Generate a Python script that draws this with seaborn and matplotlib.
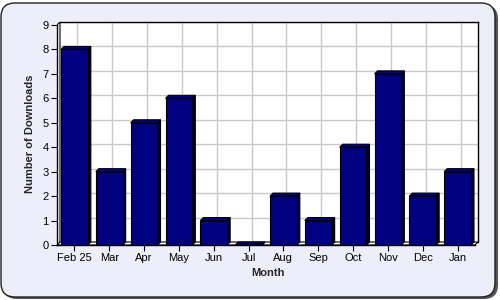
import matplotlib
matplotlib.use("Agg")
import matplotlib.pyplot as plt
import matplotlib.transforms as mtransforms
import seaborn as sns
import pandas as pd
from matplotlib.patches import FancyBboxPatch, Polygon

months = ["Feb 25", "Mar", "Apr", "May", "Jun", "Jul", "Aug", "Sep", "Oct", "Nov", "Dec", "Jan"]
downloads = [8, 3, 5, 6, 1, 0, 2, 1, 4, 7, 2, 3]
yticks = [0, 1, 2, 3, 4, 5, 6, 7, 8, 9]

df = pd.DataFrame({"Month": months, "Downloads": downloads})

sns.set_theme(style="white")
plt.rcParams["font.family"] = ["Liberation Sans", "DejaVu Sans"]

W, H = 500, 300
fig = plt.figure(figsize=(5, 3), dpi=100)
fig.patch.set_facecolor("white")

# rounded background with shadow (pixel coordinates, origin bottom-left)
ident = mtransforms.IdentityTransform()
shadow = FancyBboxPatch((3, 1), 495, 294, boxstyle="round,pad=0,rounding_size=14",
                        transform=ident, facecolor="#555555", edgecolor="none", zorder=0)
bg = FancyBboxPatch((1, 3), 494, 294, boxstyle="round,pad=0,rounding_size=14",
                    transform=ident, facecolor="#EEEEFA", edgecolor="#222222", linewidth=1.0, zorder=1)
fig.patches.extend([shadow, bg])

left_px, right_px, bottom_px, top_px = 57, 478, 245, 22
depth = 3
ax = fig.add_axes([left_px / W, (H - bottom_px) / H, (right_px - left_px) / W, (bottom_px - top_px) / H])
ax.set_facecolor("none")
ax.set_zorder(2)

n = len(months)
px_per_x = (right_px - left_px - depth) / n
px_per_y = (bottom_px - 25) / 9.0
dx = depth / px_per_x
dy = depth / px_per_y

sns.barplot(data=df, x="Month", y="Downloads", ax=ax, color="#000080", saturation=1,
            width=0.77, edgecolor="black", linewidth=0.8, zorder=4)

ax.set_xlim(-0.5, n - 0.5 + dx)
ax.set_ylim(0, 9 + dy)
ax.set_yticks(yticks)
ax.set_yticklabels([str(t) for t in yticks])

# back wall (white) and grid
x0w = -0.5 + dx
x1w = n - 0.5 + dx
ax.add_patch(Polygon([(x0w, dy), (x1w, dy), (x1w, 9 + dy), (x0w, 9 + dy)], closed=True,
                     facecolor="white", edgecolor="none", zorder=0))
ax.hlines([t + dy for t in yticks[1:]], x0w, x1w, colors="#C8C8C8", linewidth=1.0, zorder=1)
ax.vlines([i + dx for i in range(n)], dy, 9 + dy, colors="#C8C8C8", linewidth=1.0, zorder=1)

# left wall and floor
ax.add_patch(Polygon([(-0.5, 0), (-0.5, 9), (x0w, 9 + dy), (x0w, dy)], closed=True,
                     facecolor="white", edgecolor="black", linewidth=0.8, zorder=2))
ax.add_patch(Polygon([(-0.5, 0), (n - 0.5, 0), (x1w, dy), (x0w, dy)], closed=True,
                     facecolor="white", edgecolor="black", linewidth=0.8, zorder=2))

# 3D depth for bars
for p in list(ax.patches):
    if not hasattr(p, "get_height") or p.get_zorder() != 4:
        continue
    x0 = p.get_x()
    w = p.get_width()
    h = p.get_height()
    x1 = x0 + w
    top = Polygon([(x0, h), (x1, h), (x1 + dx, h + dy), (x0 + dx, h + dy)], closed=True,
                  facecolor="#000080", edgecolor="black", linewidth=0.8, zorder=3.9)
    side = Polygon([(x1, 0), (x1, h), (x1 + dx, h + dy), (x1 + dx, dy)], closed=True,
                   facecolor="#000033", edgecolor="black", linewidth=0.8, zorder=3.9)
    ax.add_patch(side)
    ax.add_patch(top)

for s in ["top", "right", "left", "bottom"]:
    ax.spines[s].set_visible(True)
    ax.spines[s].set_color("black")
    ax.spines[s].set_linewidth(1.0)
ax.spines["left"].set_bounds(0, 9)
ax.spines["bottom"].set_bounds(-0.5, n - 0.5)
ax.spines["top"].set_bounds(x0w, x1w)
ax.spines["right"].set_bounds(dy, 9 + dy)
ax.tick_params(axis="both", which="major", length=4, width=0.8, color="black",
               labelsize=8, labelcolor="black", direction="out", bottom=True, left=True, pad=2)

ax.set_xlabel("Month", fontsize=8, fontweight="bold", labelpad=3)
ax.set_ylabel("Number of Downloads", fontsize=8, fontweight="bold", labelpad=5)

fig.savefig("out.png", dpi=100, facecolor=fig.get_facecolor())
